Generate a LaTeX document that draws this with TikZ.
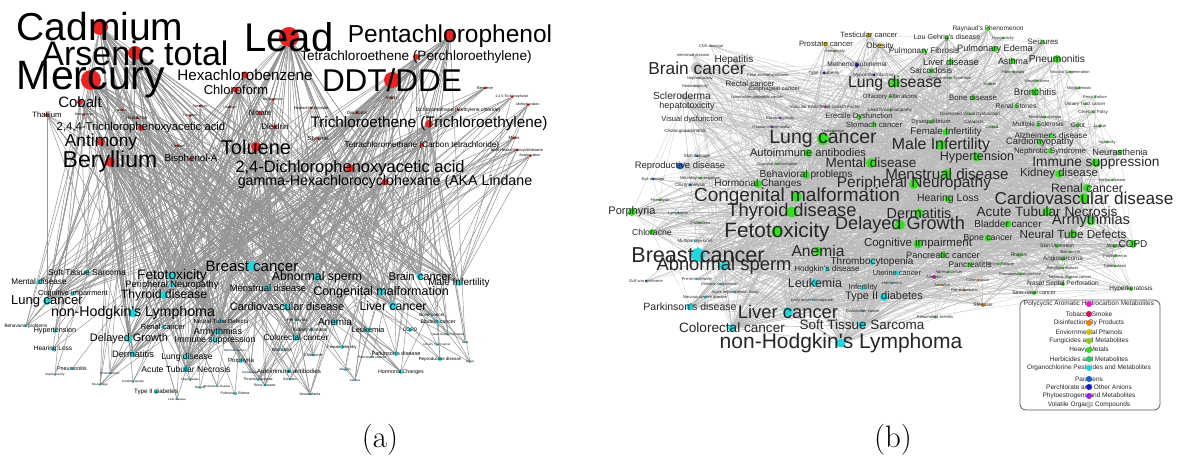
\documentclass[tikz,border=0pt]{standalone}
\usepackage{fontspec}
\newfontfamily\netfont{Liberation Sans}
\usepackage{tikz}
\definecolor{chemred}{RGB}{236,34,34}
\definecolor{heavymetal}{RGB}{52,222,30}
\definecolor{organochl}{RGB}{34,214,222}
\definecolor{envphenol}{RGB}{206,196,24}
\definecolor{paraben}{RGB}{34,96,200}
\definecolor{perchlor}{RGB}{28,28,190}
\definecolor{phyto}{RGB}{150,36,232}
\definecolor{pahmeta}{RGB}{228,32,200}
\definecolor{tobacco}{RGB}{208,20,92}
\definecolor{disinfect}{RGB}{232,132,30}
\definecolor{fungicide}{RGB}{150,204,30}
\definecolor{herbicide}{RGB}{40,200,100}
\definecolor{volorg}{RGB}{196,196,196}
\pgfdeclarelayer{links}
\pgfdeclarelayer{names}
\pgfsetlayers{links,main,names}

% chemicals of panel (a): id/x/y/radius/font size/degree/label
\def\chemlist{
1/91/80/10/41/56/Mercury,
2/100/27/8/39/54/Cadmium,
3/135/53/7/34/48/Arsenic total,
4/289/37/10/40/58/Lead,
5/392/80/8/31.5/42/{DDT/DDE},
6/450/36/6/24.5/36/Pentachlorophenol,
7/416/57/3/13.6/20/Tetrachloroethene (Perchloroethylene),
8/245/75/3.5/15.2/22/Hexachlorobenzene,
9/236/90/3/13/18/Chloroform,
10/80/102/3/15/16/Cobalt,
11/141/128/3/11.3/16/{2,4,4-Trichlorophenoxyacetic acid},
12/101/142/4/17.3/22/Antimony,
13/110/162/5/23/30/Beryllium,
14/256/147/5/20/28/Toluene,
15/350/168/4/16.5/25/{2,4-Dichlorophenoxyacetic acid},
16/385/182/3.5/14.2/22/gamma-Hexachlorocyclohexane (AKA Lindane,
17/429/124/4/15.3/25/Trichloroethene (Trichloroethylene),
18/422/145/2/8.2/11/Tetrachloromethane (Carbon tetrachloride),
19/191/159/2/9.8/11/Bisphenol-A,
20/260/113/2/7.5/11/Nitrate,
21/275/127/2/8/11/Dieldrin,
22/47/115/2/7.7/8/Thallium,
23/318/139/1.5/6/8/Styrene,
24/391/98/1.5/4.5/8/Aldrin,
25/485/88/1.5/4/7/Benzene,
26/512/97/1.5/3.5/7/{2,4,5-Trichlorophenol},
27/528/105/1.5/3.5/7/Methylparaben,
28/458/110/1.5/5/8/Dichloromethane (Methylene chloride),
29/514/138/1.5/4.5/7/Mirex,
30/517/150/1.5/4/7/beta-Hexachlorocyclohexane,
31/530/156/1.5/3.5/6/Butylparaben,
32/357/113/1.5/4.5/8/Disulfoton,
33/311/108/1.5/4/7/Heptachlor epoxide,
34/190/116/1.5/3.5/6/Tungsten,
35/230/107/1.5/3.5/6/Uranium,
36/273/100/1.5/3.5/6/Molybdenum,
37/84/115/1.5/3.5/6/Manganese,
38/122/110/1.5/3/4/Barium,
39/178/146/1.5/4/6/Cesium,
40/200/106/1.5/3.5/6/Strontium,
41/137/118/1.5/4.5/6/Heptachlor}

% outcomes of panel (a): id/x/y/radius/font size/label
\def\outalist{
1/252/266/5/15/Breast cancer,
2/172/276/4.5/13.8/Fetotoxicity,
3/133/313/4.5/14.2/non-Hodgkin's Lymphoma,
4/47/301/4/13/Lung cancer,
5/317/277/4/12.3/Abnormal sperm,
6/381/292/4/12.5/Congenital malformation,
7/164/295/4/12.2/Thyroid disease,
8/393/306/4/12.3/Liver cancer,
9/287/307/3.5/11/Cardiovascular disease,
10/129/339/3.5/10.9/Delayed Growth,
11/420/276/3.5/11.2/Brain cancer,
12/172/285/3/9.3/Peripheral Neuropathy,
13/268/288/3/9.4/Menstrual disease,
14/459/283/3/9.9/Male Infertility,
15/218/332/3/9/Arrhythmias,
16/215/340/3/8.7/Immune suppression,
17/335/322/3/10/Anemia,
18/296/338/3/8.3/Colorectal cancer,
19/133/354/3/9.3/Dermatitis,
20/187/357/3/8.6/Lung disease,
21/186/369/3/8.6/Acute Tubular Necrosis,
22/87/272/2.5/8.4/Soft Tissue Sarcoma,
23/39/282/2.5/8.2/Mental disease,
24/73/294/2/7.4/Cognitive impairment,
25/368/330/2.5/7.6/Leukemia,
26/163/327/2/7.5/Renal cancer,
27/221/321/2/6/Neural Tube Defects,
28/55/331/2/7.2/Hypertension,
29/53/349/2/6.5/Hearing Loss,
30/241/361/2/6/Porphyria,
31/289/371/2/6.1/Autoimmune antibodies,
32/156/392/2/6.2/Type II diabetes,
33/410/330/2/5/COPD,
34/342/347/2/4/Female Infertility,
35/396/354/2/5.5/Parkinson's disease,
36/440/359/2/4.4/Reproductive disease,
37/401/372/2/5.3/Hormonal Changes,
38/438/322/2/5.2/Bladder cancer,
39/432/315/1.5/4.5/Bone cancer,
40/26/326/1.5/4.7/Behavioral problems,
41/72/369/1.5/5.4/Pneumonitis,
42/282/350/1.5/4.5/Bronchitis,
43/313/355/1.5/4/Chloracne,
44/290/379/1.5/3.5/Seizures,
45/265/385/1.5/3.5/Bone disease,
46/310/394/1.5/3.5/Neurasthenia,
47/235/394/1.5/3.5/Pulmonary Edema,
48/258/380/1.5/3.5/Thrombocytopenia,
49/177/399/1.2/3/Liver disease,
50/55/375/1.2/3/Nephrotoxicity,
51/110/373/1.2/3/Endometriosis,
52/133/382/1.2/3/Cardiomyopathy,
53/100/385/1.2/3/Miscarriage,
54/200/388/1.2/3/Obesity,
55/190/380/1.2/3/Hypospadias,
56/217/386/1.2/3/Alzheimer's disease,
57/250/372/1.2/3/Sarcoidosis,
58/345/370/1.2/3/Allergies,
59/355/380/1.2/3/Asthma,
60/310/330/1.5/5/Kidney disease,
61/297/320/1.5/4.5/Hemolysis,
62/372/357/1.2/3.5/Pancreatic cancer,
63/235/350/1.2/3/Stomach cancer,
64/448/335/1.2/3/Nasal Septal Perforation,
65/437/345/1.2/3/Urinary Tract cancer,
66/465/342/1.2/3/Gout,
67/470/362/1.2/3/Lupus}

% outcomes of panel (b): id/x/y/radius/font size/colour/label
\def\outblist{
1/823/139/6/19.5/heavymetal/Lung cancer,
2/797/197/5/19/heavymetal/Congenital malformation,
3/792/212/5.5/18.3/heavymetal/Thyroid disease,
4/777/232/5.5/20.8/heavymetal/Fetotoxicity,
5/698/255/7/21.6/organochl/Breast cancer,
6/724/266/4.5/18.4/organochl/Abnormal sperm,
7/788/312/5/18.4/organochl/Liver cancer,
8/841/343/4.5/21/organochl/non-Hodgkin's Lymphoma,
9/1084/198/5/17.2/heavymetal/Cardiovascular disease,
10/941/145/5/15.9/heavymetal/Male Infertility,
11/895/83/5/15.8/heavymetal/Lung disease,
12/914/184/5/15.4/heavymetal/Peripheral Neuropathy,
13/947/174/5/15.2/heavymetal/Menstrual disease,
14/1096/163/4.5/13.7/heavymetal/Immune suppression,
15/900/225/5/18.1/heavymetal/Delayed Growth,
16/919/213/4.5/14.4/heavymetal/Dermatitis,
17/1047/212/4.5/13.6/heavymetal/Acute Tubular Necrosis,
18/1091/221/4.5/14.6/heavymetal/Arrhythmias,
19/918/244/4.5/11.5/heavymetal/Cognitive impairment,
20/818/251/4.5/15.6/heavymetal/Anemia,
21/977/157/4.5/12.6/heavymetal/Hypertension,
22/1073/234/4/11.7/heavymetal/Neural Tube Defects,
23/1059/174/4/11.5/heavymetal/Kidney disease,
24/1087/188/4/12.2/heavymetal/Renal cancer,
25/808/153/4/11.1/heavymetal/Autoimmune antibodies,
26/871/163/5/13.5/heavymetal/Mental disease,
27/806/175/4/10.2/heavymetal/Behavioral problems,
28/758/184/4/10.1/heavymetal/Hormonal Changes,
29/815/283/4/12.5/organochl/Leukemia,
30/884/297/4/11/organochl/Type II diabetes,
31/862/325/4/13.5/organochl/Soft Tissue Sarcoma,
32/732/328/4/13.6/organochl/Colorectal cancer,
33/690/307/3.5/10.5/organochl/Parkinson's disease,
34/697/68/6/17.3/volorg/Brain cancer,
35/680/166/3.5/9.4/paraben/Reproductive disease,
36/632/212/4/11/heavymetal/Porphyria,
37/652/232/3/8.7/heavymetal/Chloracne,
38/1133/244/4/10/heavymetal/COPD,
39/1008/224/3.5/10/heavymetal/Bladder cancer,
40/988/238/3.5/8.7/heavymetal/Bone cancer,
41/943/255/3.5/9.2/heavymetal/Pancreatic cancer,
42/872/262/3/10/organochl/Thrombocytopenia,
43/948/199/3.5/10.5/heavymetal/Hearing Loss,
44/946/132/3.5/9.7/heavymetal/Female Infertility,
45/1035/92/4/9.6/heavymetal/Bronchitis,
46/1057/59/4/10.2/heavymetal/Pneumonitis,
47/1013/61/3/8.8/heavymetal/Asthma,
48/995/49/3/9.2/heavymetal/Pulmonary Edema,
49/924/51/2.5/8.2/heavymetal/Pulmonary Fibrosis,
50/951/62/3/9.5/heavymetal/Liver disease,
51/931/71/2.5/8.2/heavymetal/Sarcoidosis,
52/1040/142/3/9.3/heavymetal/Cardiomyopathy,
53/1050/151/2.5/7.9/heavymetal/Nephrotic Syndrome,
54/1120/152/2.5/9.3/heavymetal/Neurasthenia,
55/1051/136/2.5/8.2/heavymetal/Alzheimer's disease,
56/1038/125/2/6.6/heavymetal/Multiple Sclerosis,
57/1078/125/2/6.5/heavymetal/Gout,
58/1016/106/2/6.8/heavymetal/Renal Stones,
59/973/98/2.5/7.9/heavymetal/Bone disease,
60/1043/42/2/7.9/heavymetal/Seizures,
61/988/29/2/6.5/heavymetal/Raynaud's Phenomenon,
62/947/38/2/7.1/heavymetal/Lou Gehrig's disease,
63/869/35/2.5/7.6/envphenol/Testicular cancer,
64/826/44/2.5/7.7/envphenol/Prostate cancer,
65/880/46/2.5/8.1/envphenol/Obesity,
66/857/65/2/6.6/perchlor/Methemoglobinemia,
67/734/60/2/10/volorg/Hepatitis,
68/750/84/2/8/volorg/Rectal cancer,
69/682/96/2/10.2/volorg/Scleroderma,
70/687/106/2/9/volorg/hepatotoxicity,
71/692/120/2/7.6/volorg/Visual dysfunction,
72/859/117/2.5/7.6/heavymetal/Erectile Dysfunction,
73/874/125/2.5/7.8/heavymetal/Stomach cancer,
74/1131/289/2/6.5/heavymetal/Hyperkeratosis,
75/1063/284/2/6.6/heavymetal/Nasal Septal Perforation,
76/1034/293/2/5.4/heavymetal/Sino-nasal cancer,
77/1063/259/2/6.2/heavymetal/Angiosarcoma,
78/970/265/2.5/8.2/heavymetal/Pancreatitis,
79/897/273/2.5/7.4/organochl/Uterine cancer,
80/863/288/2.5/7.7/organochl/Infertility,
81/827/269/2.5/8.1/organochl/Hodgkin's disease,
82/983/305/2/5/disinfect/Stenosis,
83/1057/246/2/5/heavymetal/Skin Ulceration,
84/1115/246/2/4.5/heavymetal/Alopecia,
85/1070/252/1.5/4/heavymetal/Skin cancer,
86/1115/256/1.5/4/heavymetal/Polycythemia,
87/1115/266/1.5/4/heavymetal/Tuberculosis,
88/1019/255/2/5/heavymetal/Rhinitis,
89/1000/264/1.5/4/heavymetal/Chronic Fatigue,
90/1063/268/1.5/4/heavymetal/Beryllium disease,
91/1020/274/1.5/4/heavymetal/Granulomatous disease,
92/1070/278/1.5/4/heavymetal/Nervous System cancer,
93/949/272/1.5/4/heavymetal/Adrenal cancer,
94/934/277/2/4/pahmeta/Allergies,
95/978/280/1.5/4/disinfect/Colon cancer,
96/942/285/1.5/4/disinfect/Jaundice,
97/964/290/1.5/4/disinfect/Pre-eclampsia,
98/892/283/1.5/4/organochl/Hematoma,
99/935/317/1.5/4/heavymetal/Rheumatoid Arthritis,
100/863/311/1.5/4/organochl/Gallbladder cancer,
101/812/300/1.5/4/organochl/Early onset menopause,
102/735/292/1.5/4/organochl/Acute hepatocellular injury,
103/705/297/1.5/4/organochl/Nervous system disease,
104/720/284/1.5/4/organochl/Immune suppression,
105/697/279/1.5/4/organochl/Pre-term delivery,
106/646/281/1.5/4/paraben/Gulf war syndrome,
107/695/241/1.5/4.5/organochl/Multiple myeloma,
108/700/223/1.5/4/heavymetal/Cholestasis,
109/678/213/1.5/4/organochl/Lymphoma,
110/660/200/1.5/4/heavymetal/Hemolysis,
111/690/185/1.5/4.5/paraben/Ciliary analysis,
112/653/179/1.5/4/paraben/Eye damage,
113/700/178/1.5/4/heavymetal/Neurological sequelae,
114/777/164/1.5/4/heavymetal/Cognitive malformation,
115/697/156/1.5/4.5/paraben/Skin damage,
116/685/131/1.5/4.5/volorg/Cholangiocarcinoma,
117/772/127/1.5/4/phyto/Ovarian differentiation,
118/780/118/1.5/4/phyto/Estrous cyclicity,
119/825/107/1.5/4.5/pahmeta/Vascular Endothelial Growth Factor,
120/833/131/1.5/4/heavymetal/Thalassemia,
121/890/97/1.5/6/heavymetal/Olfactory Alterations,
122/757/97/1.5/4/volorg/Lymphohematopoietic cancer,
123/774/89/1.5/6/volorg/Esophageal cancer,
124/768/75/1.5/4/volorg/Fetal alcohol syndrome,
125/824/73/1.5/4.5/perchlor/Type I diabetes,
126/874/75/1.5/4.5/perchlor/Myocardial infarction,
127/700/78/1.5/4/volorg/Nephrotoxicity,
128/695/86/1.5/4/volorg/Hematotoxicity,
129/711/46/1.5/4/volorg/CNS damage,
130/693/55/1.5/4/volorg/menstrual disease,
131/835/51/1.5/4/envphenol/Aneuploidy,
132/1003/38/1.5/4/heavymetal/Hypoactivity,
133/950/78/1.5/4/heavymetal/Conjunctivitis Syndrome,
134/990/84/1.5/4/heavymetal/Autism,
135/1013/72/1.5/4/heavymetal/Fibromyalgia,
136/1070/72/1.5/4/heavymetal/Macular Degeneration,
137/1037/81/1.5/4/heavymetal/Mesothelioma,
138/1079/88/1.5/4/heavymetal/Molybdenosis,
139/1095/97/1.5/4/heavymetal/Renal Failure,
140/1085/104/1.5/4.5/heavymetal/Urinary Tract cancer,
141/1093/112/1.5/4.5/heavymetal/Cerebral Palsy,
142/970/114/1.5/4.5/heavymetal/Decreased Visual Dysfunction,
143/1045/117/1.5/4/heavymetal/Minamata disease,
144/931/122/2/6/heavymetal/Dysequilibrium,
145/974/122/1.5/4.5/heavymetal/Cataracts,
146/992/127/1.5/4/heavymetal/Carotid,
147/1100/126/1.5/4.5/heavymetal/Lupus,
148/1107/142/1.5/4/heavymetal/Spasticity,
149/1112/180/1.5/4/heavymetal/Itai-Itai disease,
150/890/110/1.5/4.5/heavymetal/Lead Encephalopathy}

\begin{document}
\begin{tikzpicture}[
  x=1pt, y=-1pt,
  netdot/.style={circle, inner sep=0pt, fill=#1},
  namea/.style={inner sep=0pt, text=black},
  nameb/.style={inner sep=0pt, text=black!85},
  chemlink/.style={draw=black!42, line width=0.5pt},
  outlink/.style={draw=black!27, line width=0.2pt},
  legentry/.style={inner sep=0pt, text=black!85, font=\netfont\fontsize{6.5}{6.5}\selectfont},
]
  \useasboundingbox (0,0) rectangle (1184,462);
  \pgfmathsetseed{42}

  % ---- Dots ----
  \foreach \i/\x/\y/\r/\fs/\deg/\txt in \chemlist
    \node[netdot=chemred, minimum size=2*\r pt] (chem\i) at (\x,\y) {};
  \foreach \i/\x/\y/\r/\fs/\txt in \outalist
    \node[netdot=organochl, minimum size=2*\r pt] (outa\i) at (\x,\y) {};
  \foreach \i/\x/\y/\r/\fs/\col/\txt in \outblist
    \node[netdot=\col, minimum size=2*\r pt] (outb\i) at (\x,\y) {};

  % ---- Labels on top ----
  \begin{pgfonlayer}{names}
    \foreach \i/\x/\y/\r/\fs/\deg/\txt in \chemlist
      \node[namea, font=\netfont\fontsize{\fs}{\fs}\selectfont] (chemname\i) at (\x,\y) {\txt};
    \foreach \i/\x/\y/\r/\fs/\txt in \outalist
      \node[namea, font=\netfont\fontsize{\fs}{\fs}\selectfont] (outaname\i) at (\x,\y) {\txt};
    \foreach \i/\x/\y/\r/\fs/\col/\txt in \outblist
      \node[nameb, font=\netfont\fontsize{\fs}{\fs}\selectfont] (outbname\i) at (\x,\y) {\txt};
  \end{pgfonlayer}

  % ---- Links ----
  \begin{pgfonlayer}{links}
    % (a) chemical -> outcome
    \foreach \i/\x/\y/\r/\fs/\deg/\txt in \chemlist {
      \foreach \k in {1,...,\deg} {
        \pgfmathtruncatemacro\j{rnd<0.6 ? random(1,21) : random(1,67)}
        \draw[chemlink] (chem\i) -- (outa\j);
      }
    }
    % (b) outcome -- outcome
    \foreach \i in {1,...,32} {
      \foreach \j in {\i,...,32} {
        \ifnum\i<\j \draw[outlink] (outb\i) -- (outb\j); \fi
      }
    }
    \foreach \i in {33,...,150} {
      \foreach \k in {1,...,4} {
        \pgfmathtruncatemacro\j{random(1,60)}
        \draw[outlink] (outb\i) -- (outb\j);
      }
    }
    \foreach \k in {1,...,500} {
      \pgfmathtruncatemacro\i{random(1,150)}
      \pgfmathtruncatemacro\j{random(1,40)}
      \draw[outlink] (outb\i) -- (outb\j);
    }
    \foreach \k in {1,...,1400} {
      \pgfmathtruncatemacro\i{random(1,90)}
      \pgfmathtruncatemacro\j{random(1,32)}
      \draw[outlink] (outb\i) -- (outb\j);
    }
  \end{pgfonlayer}

  % ---- Legend ----
  \node[draw=black!65, line width=0.8pt, rounded corners=6pt, fill=white,
        minimum width=140pt, minimum height=110pt] (legend) at (1090,355) {};
  \foreach \y/\col/\txt [count=\n] in {
      304/pahmeta/Polycyclic Aromatic Hydrocarbon Metabolites,
      314/tobacco/Tobacco Smoke,
      323/disinfect/Disinfection By Products,
      332/envphenol/Enviornmental Phenols,
      341/fungicide/Fungicides and Metabolites,
      350/heavymetal/Heavy Metals,
      359/herbicide/Herbicides and Metabolites,
      368/organochl/Organochlorine Pesticides and Metabolites,
      379/paraben/Parabens,
      387/perchlor/Perchlorate and Other Anions,
      396/phyto/Phytoestrogens and Metabolites,
      405/volorg/Volatile Organic Compounds} {
    \node[legentry] (legname\n) at (1089,\y) {\txt};
    \node[netdot=\col, minimum size=6pt] (legdot\n) at (1089,\y) {};
  }

  % ---- Captions ----
  \node[font=\fontsize{31}{31}\selectfont] (capa) at (380,440) {(a)};
  \node[font=\fontsize{31}{31}\selectfont] (capb) at (893,440) {(b)};
\end{tikzpicture}
\end{document}
